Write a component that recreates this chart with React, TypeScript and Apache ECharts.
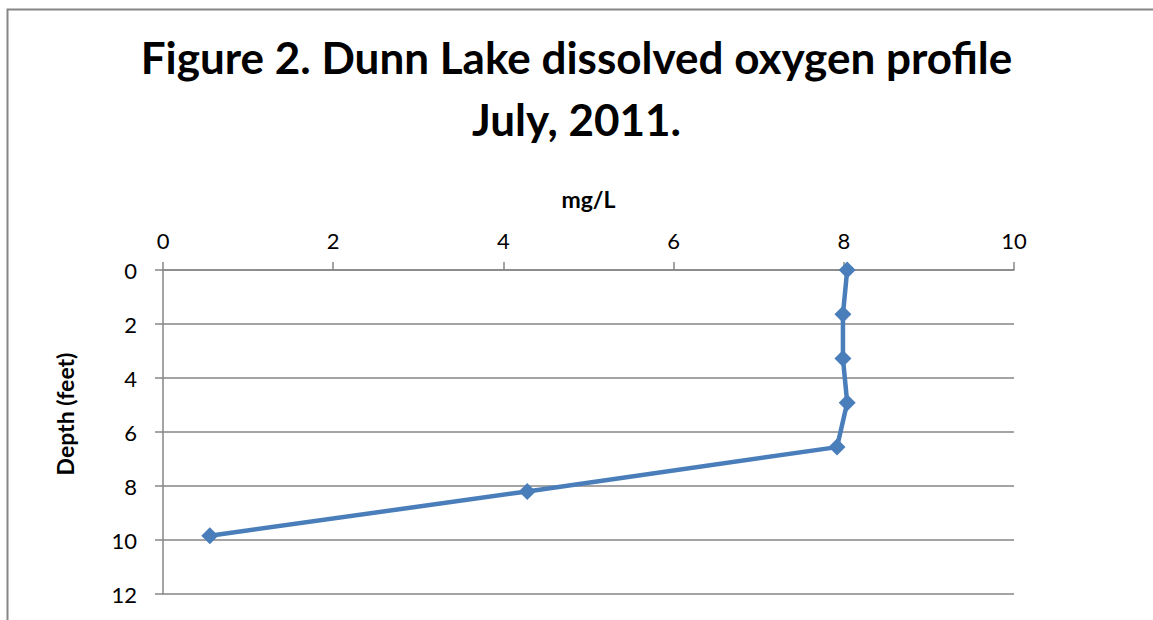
import React, { useEffect, useRef } from "react";
import * as echarts from "echarts";

const titleText = "Figure 2. Dunn Lake dissolved oxygen profile\nJuly, 2011.";
const xName = "mg/L";
const yName = "Depth (feet)";
const oxygen = [8.04, 7.99, 7.99, 8.04, 7.92, 4.28, 0.55];
const depth = [0, 1.64, 3.28, 4.92, 6.56, 8.2, 9.84];

export default function App() {
  const ref = useRef<HTMLDivElement>(null);
  useEffect(() => {
    if (!ref.current) return;
    const chart = echarts.init(ref.current, null, { renderer: "svg" });
    const font = "Lato, 'Open Sans', sans-serif";
    const gray = "#868686";
    chart.setOption({
      animation: false,
      backgroundColor: "#ffffff",
      textStyle: { fontFamily: font },
      title: {
        text: titleText,
        left: "center",
        top: 21,
        textStyle: { fontSize: 44, fontWeight: "bold", color: "#000", lineHeight: 62, fontFamily: font },
      },
      graphic: [
        {
          type: "rect",
          shape: { x: 7.5, y: 9.5, width: 1160, height: 640 },
          style: { fill: "none", stroke: gray, lineWidth: 2 },
          silent: true,
        },
        {
          type: "text",
          x: 65,
          y: 414,
          rotation: Math.PI / 2,
          style: {
            text: yName,
            fontSize: 23,
            fontWeight: "bold",
            fontFamily: font,
            fill: "#000",
            textAlign: "center",
            textVerticalAlign: "middle",
          },
          silent: true,
        },
      ],
      grid: { left: 163, top: 270, right: 139, bottom: 26, containLabel: false },
      xAxis: {
        type: "value",
        position: "top",
        min: 0,
        max: 10,
        interval: 2,
        name: xName,
        nameLocation: "middle",
        nameGap: 60,
        nameTextStyle: { fontSize: 23, fontWeight: "bold", color: "#000", fontFamily: font },
        axisLine: { show: true, lineStyle: { color: gray, width: 1.5 } },
        axisTick: { show: true, length: 8, lineStyle: { color: gray, width: 1.5 } },
        axisLabel: { fontSize: 22, color: "#000", margin: 19, fontFamily: font },
        splitLine: { show: false },
      },
      yAxis: {
        type: "value",
        inverse: true,
        min: 0,
        max: 12,
        interval: 2,
        axisLine: { show: true, lineStyle: { color: gray, width: 1.5 } },
        axisTick: { show: true, length: 8, lineStyle: { color: gray, width: 1.5 } },
        axisLabel: { fontSize: 22, color: "#000", margin: 26, fontFamily: font },
        splitLine: { show: true, lineStyle: { color: gray, width: 1.5 } },
      },
      series: [
        {
          type: "line",
          data: oxygen.map((v, i) => [v, depth[i]]),
          symbol: "diamond",
          symbolSize: 17,
          lineStyle: { color: "#4A7EBB", width: 4.5 },
          itemStyle: { color: "#4A7EBB" },
        },
      ],
    });
    return () => chart.dispose();
  }, []);
  return (
    <div
      ref={ref}
      style={{ position: "absolute", left: 0, top: 0, width: 1153, height: 620 }}
    />
  );
}
